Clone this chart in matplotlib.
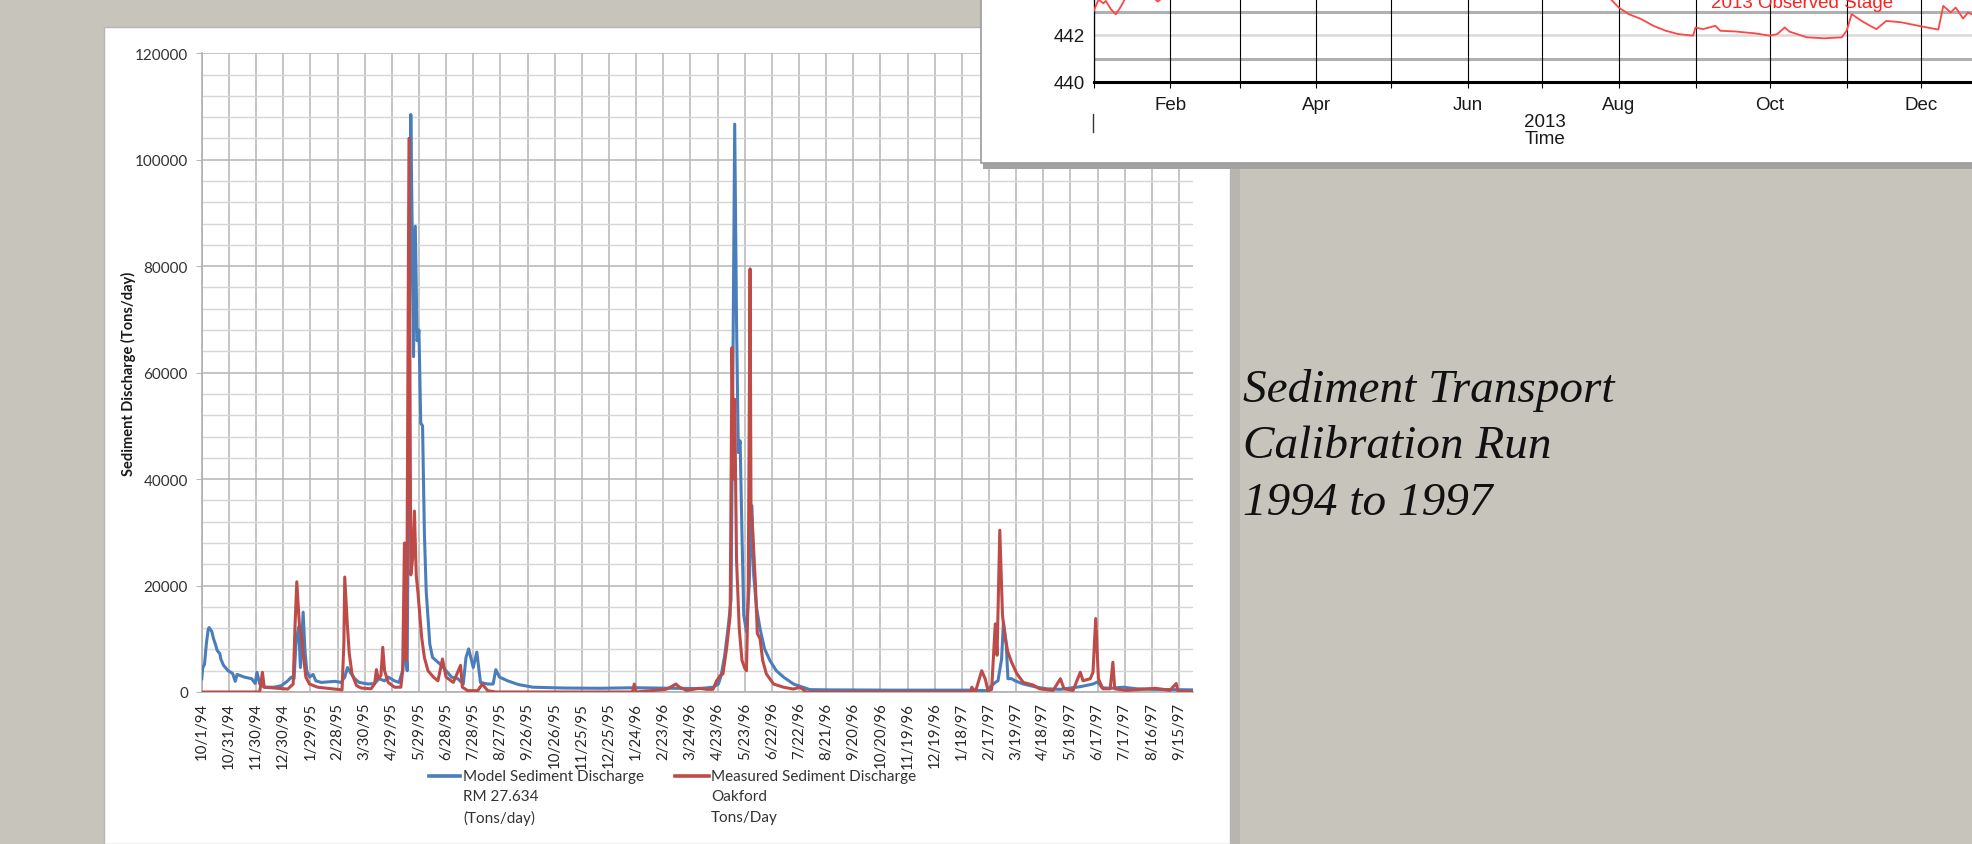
import matplotlib
matplotlib.use("Agg")
import matplotlib.pyplot as plt
from matplotlib.patches import Rectangle
from matplotlib.lines import Line2D

# ---------------- data: sediment discharge (day offset from 10/1/94) ----------------
model_days = [0, 1, 3, 5, 7, 8, 11, 13, 15, 17, 20, 21, 24, 29, 34, 37, 39, 47, 55, 59,
              61, 64, 69, 80, 88, 95, 99, 102, 104, 107, 109, 112, 114, 116, 119, 123, 126,
              132, 147, 154, 158, 161, 164, 169, 174, 184, 191, 196, 202, 206, 213, 218,
              222, 225, 227, 229, 231, 233, 234, 236, 238, 240, 242, 244, 246, 248, 252,
              255, 259, 265, 270, 276, 283, 289, 292, 295, 298, 300, 304, 308, 316, 322,
              325, 329, 338, 350, 366, 400, 440, 478, 520, 550, 565, 571, 574, 578, 582,
              585, 587, 589, 591, 593, 595, 597, 599, 602, 605, 608, 610, 613, 617, 622,
              628, 635, 643, 654, 661, 672, 694, 760, 850, 867, 877, 880, 884, 886, 889,
              891, 895, 899, 908, 923, 934, 949, 971, 985, 990, 995, 1004, 1019, 1033,
              1052, 1095]
model_vals = [2500, 4500, 5200, 9000, 11700, 12100, 11400, 10000, 9000, 7800, 7200, 6200,
              5000, 4000, 3500, 2000, 3300, 2800, 2500, 1600, 3700, 1500, 900, 900, 1200,
              2100, 2800, 2500, 9000, 12200, 4600, 15000, 7800, 4000, 2800, 3300, 2100,
              1800, 2000, 1800, 2800, 4600, 3700, 2500, 1800, 1500, 1600, 2500, 2100, 2800,
              2100, 1800, 4000, 9000, 4000, 55000, 108500, 80000, 63000, 87500, 66000,
              68000, 50500, 50000, 30000, 19000, 9000, 6500, 5900, 5000, 4000, 2800, 2500,
              1500, 6500, 8100, 6000, 4600, 7500, 1800, 1500, 1500, 4200, 2800, 2100, 1400,
              900, 750, 700, 800, 700, 650, 900, 1500, 3100, 6900, 12500, 17500, 60000,
              106700, 70000, 45000, 47200, 30000, 14400, 11300, 20000, 35000, 22000, 16000,
              11900, 8100, 5900, 4000, 2800, 1500, 1100, 450, 400, 350, 350, 250, 1800,
              2100, 6200, 13100, 9400, 2500, 2500, 2100, 1500, 900, 600, 500, 1000, 1500,
              1900, 800, 700, 900, 600, 500, 400]

meas_days = [0, 64, 67, 69, 80, 95, 101, 103, 105, 108, 110, 112, 115, 119, 128, 147, 155,
             157, 158, 161, 163, 166, 171, 176, 187, 191, 193, 195, 198, 200, 202, 206, 213,
             220, 222, 224, 226, 227, 229, 231, 233, 235, 237, 239, 243, 246, 250, 256, 261,
             266, 270, 278, 286, 288, 294, 305, 310, 316, 325, 476, 478, 480, 513, 519, 524,
             528, 536, 550, 558, 565, 569, 573, 576, 580, 584, 586, 588, 589, 591, 594, 597,
             600, 602, 604, 606, 607, 609, 612, 614, 617, 620, 624, 632, 643, 654, 661, 668,
             850, 851, 855, 862, 866, 869, 873, 877, 879, 882, 885, 888, 891, 895, 901, 908,
             919, 926, 941, 949, 953, 963, 971, 974, 982, 985, 988, 991, 996, 1004, 1007,
             1009, 1022, 1054, 1070, 1077, 1079, 1095]
meas_vals = [0, 0, 3700, 900, 750, 550, 1500, 12200, 20700, 12200, 11000, 7200, 2800, 1500,
             900, 550, 400, 9000, 21600, 12200, 7200, 3400, 1200, 750, 600, 1500, 4200, 2500,
             3100, 8400, 4000, 1800, 900, 900, 4000, 28000, 6000, 30000, 104000, 22000,
             25000, 34000, 22000, 18500, 10300, 6500, 4000, 2800, 2100, 6200, 2800, 1800,
             5000, 900, 250, 250, 1500, 250, 0, 0, 1500, 0, 500, 1000, 1500, 900, 300, 700,
             500, 500, 2100, 3100, 3400, 8100, 14400, 64700, 40000, 55000, 25000, 12000,
             6000, 4500, 4000, 20000, 79500, 35000, 30000, 20000, 11000, 10000, 5900, 3400,
             1500, 900, 550, 900, 0, 0, 900, 0, 4000, 2400, 200, 500, 12800, 6900, 30400,
             14400, 10000, 7500, 5600, 3400, 1800, 1300, 600, 300, 2500, 600, 300, 3700,
             2100, 2500, 3700, 13800, 2500, 600, 600, 5600, 600, 300, 700, 300, 1600, 100,
             100]

x_tick_labels = ["10/1/94", "10/31/94", "11/30/94", "12/30/94", "1/29/95", "2/28/95",
                 "3/30/95", "4/29/95", "5/29/95", "6/28/95", "7/28/95", "8/27/95",
                 "9/26/95", "10/26/95", "11/25/95", "12/25/95", "1/24/96", "2/23/96",
                 "3/24/96", "4/23/96", "5/23/96", "6/22/96", "7/22/96", "8/21/96",
                 "9/20/96", "10/20/96", "11/19/96", "12/19/96", "1/18/97", "2/17/97",
                 "3/19/97", "4/18/97", "5/18/97", "6/17/97", "7/17/97", "8/16/97",
                 "9/15/97"]

# ---------------- data: 2013 observed stage (day of year) ----------------
stage_days = [0, 2, 4, 5, 7, 9, 11, 13, 24, 26, 28, 40, 200, 209, 212, 216, 221, 226, 231,
              236, 242, 243, 246, 251, 253, 259, 267, 273, 276, 279, 281, 288, 295, 302,
              304, 306, 310, 313, 316, 320, 326, 334, 341, 343, 346, 348, 351, 353, 356]
stage_vals = [443.0, 443.5, 443.35, 443.45, 443.1, 442.88, 443.2, 443.6, 443.6, 443.42,
              443.6, 444.2, 444.2, 443.5, 443.17, 442.89, 442.68, 442.39, 442.18, 442.04,
              441.97, 442.32, 442.25, 442.39, 442.18, 442.15, 442.07, 441.97, 442.04,
              442.32, 442.14, 441.9, 441.86, 441.9, 442.18, 442.89, 442.6, 442.42, 442.25,
              442.6, 442.54, 442.37, 442.23, 443.24, 442.96, 443.17, 442.7, 442.96, 442.8]
month_starts = [0, 31, 59, 90, 120, 151, 181, 212, 243, 273, 304, 334]
month_labels = ["", "Feb", "", "Apr", "", "Jun", "", "Aug", "", "Oct", "", "Dec"]

# ---------------- figure ----------------
W, H = 1972, 845
fig = plt.figure(figsize=(W / 100, H / 100), dpi=100, facecolor="#c7c4bb")


def fx(x):
    return x / W


def fy(y):
    return 1 - y / H


BLUE = "#4a7ebb"
RED = "#be4b48"
FONT = "Lato"

# left white chart panel + shadow
fig.add_artist(Rectangle((fx(1230), fy(845)), 10 / W, (845 - 32) / H,
                         transform=fig.transFigure, facecolor="#b7b5ae",
                         edgecolor="none", zorder=-2))
fig.add_artist(Rectangle((fx(104), fy(845)), (1230 - 104) / W, (845 - 28) / H,
                         transform=fig.transFigure, facecolor="white",
                         edgecolor="#b5b5b5", lw=1, zorder=-1))

ax = fig.add_axes([fx(201.8), fy(693), (1192.5 - 201.8) / W, (693 - 54.3) / H])
ax.set_facecolor("white")
ax.plot(model_days, model_vals, color=BLUE, lw=2.2, solid_joinstyle="round", zorder=3)
ax.plot(meas_days, meas_vals, color=RED, lw=2.2, solid_joinstyle="round", zorder=4)
ax.set_xlim(0, 1095)
ax.set_ylim(0, 120000)
ax.set_xticks(range(0, 1081, 30))
ax.set_xticklabels(x_tick_labels, rotation=90, fontsize=10.8, family=FONT, color="#262626")
ax.set_yticks(range(0, 120001, 20000))
ax.set_yticklabels([str(v) for v in range(0, 120001, 20000)], fontsize=11,
                   family=FONT, color="#333333")
ax.set_yticks(range(0, 120001, 4000), minor=True)
ax.set_axisbelow(True)
ax.grid(which="major", axis="both", color="#b8b8b8", lw=1.15)
ax.grid(which="minor", axis="y", color="#d6d6d6", lw=1.05)
ax.tick_params(axis="x", length=0, pad=7)
ax.tick_params(axis="y", which="major", length=4, color="#b8b8b8", pad=6)
ax.tick_params(axis="y", which="minor", length=0)
for s in ("top", "right"):
    ax.spines[s].set_visible(False)
for s in ("left", "bottom"):
    ax.spines[s].set_color("#b0b0b0")
    ax.spines[s].set_linewidth(1.2)

fig.text(fx(128), fy(374), "Sediment Discharge (Tons/day)", rotation=90, ha="center",
         va="center", fontsize=10.5, fontweight="bold", family=FONT, color="#1a1a1a")

# legend (below chart)
fig.add_artist(Line2D([fx(429), fx(460)], [fy(777), fy(777)], color=BLUE, lw=2.6,
                      transform=fig.transFigure))
fig.add_artist(Line2D([fx(675), fx(709)], [fy(777), fy(777)], color=RED, lw=2.6,
                      transform=fig.transFigure))
for i, t in enumerate(["Model Sediment Discharge", "RM 27.634", "(Tons/day)"]):
    fig.text(fx(463), fy(777 + 20.5 * i), t, va="center", ha="left", fontsize=11,
             family=FONT, color="#333333")
for i, t in enumerate(["Measured Sediment Discharge", "Oakford", "Tons/Day"]):
    fig.text(fx(711), fy(777 + 20.5 * i), t, va="center", ha="left", fontsize=11,
             family=FONT, color="#333333")

# slide caption
for i, t in enumerate(["Sediment Transport", "Calibration Run", "1994 to 1997"]):
    fig.text(fx(1243), fy(402 + 56.5 * i), t, va="baseline", ha="left", fontsize=34,
             family="Liberation Serif", style="italic", color="#111111")

# ---------------- top-right inset panel (2013 stage) ----------------
fig.add_artist(Rectangle((fx(983), fy(170)), (W - 983) / W, 9 / H,
                         transform=fig.transFigure, facecolor="#a2a2a2",
                         edgecolor="none", zorder=5))
fig.add_artist(Rectangle((fx(981), fy(163.5)), (W - 981 + 5) / W, (163.5 + 10) / H,
                         transform=fig.transFigure, facecolor="white",
                         edgecolor="#9a9a9a", lw=1.2, zorder=5.5))

ax2 = fig.add_axes([fx(1093.5), fy(83), 904.3 / W, 94 / H], zorder=6)
ax2.set_facecolor("white")
ax2.set_xlim(0, 365)
ax2.set_ylim(440, 444)
ax2.axhline(441, color="#b0b0b0", lw=2.2, zorder=1)
ax2.axhline(443, color="#b0b0b0", lw=2.2, zorder=1)
ax2.axhline(442, color="#dadada", lw=1.8, zorder=1)
ax2.plot(stage_days, stage_vals, color="#ff4545", lw=1.3, zorder=3)
ax2.set_xticks(month_starts)
ax2.set_xticklabels(month_labels, fontsize=13.5, family="Liberation Sans", color="#1a1a1a")
ax2.set_yticks([440, 442])
ax2.set_yticklabels(["440", "442"], fontsize=13.5, family="Liberation Sans",
                    color="#1a1a1a")
ax2.grid(axis="x", color="black", lw=0.8, zorder=2)
ax2.tick_params(axis="x", length=4, width=0.8, color="black", pad=6)
ax2.tick_params(axis="y", length=0, pad=6)
for s in ("top", "right"):
    ax2.spines[s].set_visible(False)
ax2.spines["bottom"].set_linewidth(2.2)
ax2.spines["bottom"].set_color("black")
ax2.spines["left"].set_linewidth(0.9)
ax2.spines["left"].set_color("black")

fig.text(fx(1545), fy(122.7), "2013", ha="center", va="center", fontsize=13.5,
         family="Liberation Sans", color="#1a1a1a", zorder=7)
fig.text(fx(1545), fy(140), "Time", ha="center", va="center", fontsize=13.5,
         family="Liberation Sans", color="#1a1a1a", zorder=7)
fig.text(fx(1711), fy(8), "2013 Observed Stage", ha="left", va="baseline", fontsize=13.5,
         family="Liberation Sans", color="#ff2020", zorder=7)
fig.add_artist(Line2D([fx(1092.7), fx(1092.7)], [fy(115), fy(133)], color="#333333",
                      lw=1.0, transform=fig.transFigure, zorder=7))

fig.savefig("out.png", dpi=100, facecolor=fig.get_facecolor())
